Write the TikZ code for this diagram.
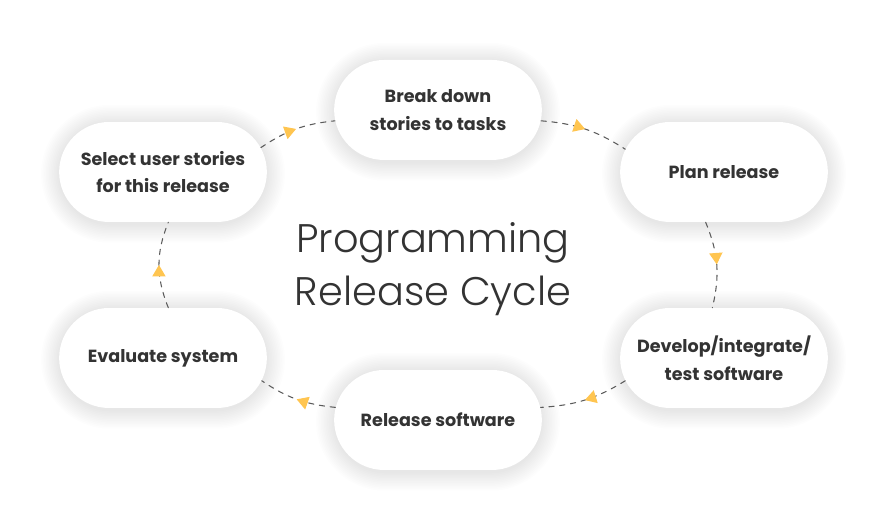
\documentclass[tikz,border=0pt]{standalone}
\usepackage{fontspec}
\setmainfont{Poppins}
\newfontfamily\titlefont{Poppins}[UprightFont=* Light]
\usetikzlibrary{arrows.meta, shapes.misc, decorations.markings, backgrounds}
\definecolor{textgray}{HTML}{333333}
\definecolor{dashgray}{HTML}{5A5A5A}
\definecolor{arrowyellow}{HTML}{FFC550}

\tikzset{
  stage/.style={rounded rectangle, fill=white, minimum width=4.39cm, minimum height=2cm,
    align=center, font=\fontsize{10}{15.8}\selectfont\bfseries, text=textgray},
  halo/.style={fill=black, opacity=0.008},
  flow/.style={dashgray, line width=0.6pt, dash pattern=on 3pt off 3.2pt, bend left=14,
    postaction={decorate, decoration={markings,
      mark=at position 0.5 with {\arrow[arrowyellow, solid]{Triangle[length=6.5pt, width=7.5pt]}}}}}
}

\begin{document}
\begin{tikzpicture}[x=0.02cm, y=0.02cm, line cap=round, line join=round]
      \useasboundingbox (0,0) rectangle (887,530);

      % Etapas
      \node[stage] (brk) at (438,420) {Break down\\stories to tasks};
      \node[stage] (pln) at (724,358) {Plan release};
      \node[stage] (dev) at (724,172) {Develop/integrate/\\test software};
      \node[stage] (rel) at (438,110) {Release software};
      \node[stage] (evl) at (163,172) {Evaluate system};
      \node[stage] (sel) at (163,358) {Select user stories\\for this release};

      % Sombras suaves
      \begin{scope}[on background layer]
        \fill[white] (0,0) rectangle (887,530);
        \foreach \n in {brk,pln,dev,rel,evl,sel}
          \foreach \k in {1,...,12}
            \fill[halo, rounded corners=1cm+0.9pt*\k]
              ([xshift=-2.06cm-0.9pt*\k, yshift=-1cm-0.9pt*\k-1pt]\n.center)
              rectangle ([xshift=2.06cm+0.9pt*\k, yshift=1cm+0.9pt*\k-1pt]\n.center);
      \end{scope}

      % Titulo
      \node[font=\titlefont\fontsize{22.7}{30}\selectfont, text=textgray, align=center] (title) at (433,261)
            {Programming\\Release Cycle};

      % Ciclo
      \draw[flow] (sel.14) to (brk.186);
      \draw[flow] (brk.354) to (pln.167);
      \draw[flow, bend left=18] (pln.250) to (dev.103);
      \draw[flow] (dev.193) to (rel.7);
      \draw[flow] (rel.173) to (evl.347);
      \draw[flow, bend left=22] (evl.84) to (sel.276);
    \end{tikzpicture}
\end{document}
